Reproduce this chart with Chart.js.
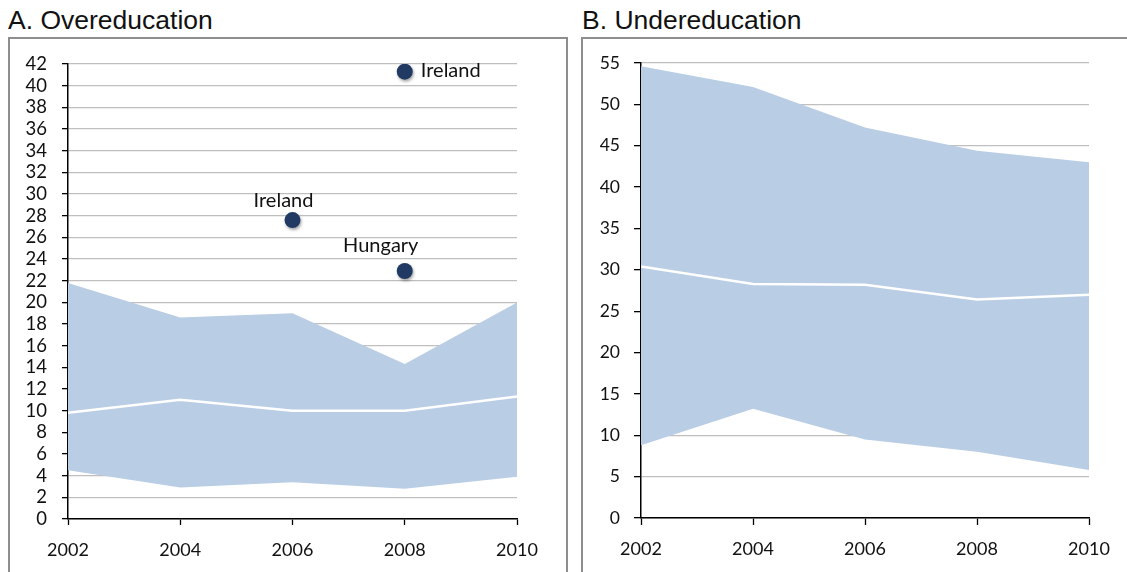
<!DOCTYPE html>
<html>
<head>
<meta charset="utf-8">
<script src="https://cdn.jsdelivr.net/npm/chart.js@4/dist/chart.umd.min.js"></script>
<style>
  html, body { margin: 0; padding: 0; background: #fff; }
  body { width: 1127px; height: 572px; position: relative; overflow: hidden; font-family: "Liberation Sans", Arial, sans-serif; }
  .title { position: absolute; top: 7px; font-size: 26.5px; line-height: 26px; color: #111; white-space: nowrap; }
  .panel { position: absolute; top: 37px; height: 545px; border: 2px solid #8e8e8e; box-sizing: border-box; }
  canvas { position: absolute; }
</style>
</head>
<body>
<div class="title" style="left:8px;">A. Overeducation</div>
<div class="title" style="left:582px;">B. Undereducation</div>
<div class="panel" style="left:8px; width:560px;"></div>
<div class="panel" style="left:581px; width:560px;"></div>
<canvas id="c1" width="556" height="534" style="left:10px; top:38px;"></canvas>
<canvas id="c2" width="544" height="534" style="left:583px; top:38px;"></canvas>
<script>
// ---- data ----
const years = [2002, 2004, 2006, 2008, 2010];

const overLower  = [4.5, 2.9, 3.4, 2.8, 3.9];
const overMedian = [9.8, 11.0, 10.0, 10.0, 11.3];
const overUpper  = [21.8, 18.6, 19.0, 14.3, 20.0];

const outlierYears  = [2006, 2008, 2008];
const outlierValues = [27.6, 41.3, 22.9];
const outlierLabels = ['Ireland', 'Ireland', 'Hungary'];

const underLower  = [8.8, 13.2, 9.5, 8.0, 5.8];
const underMedian = [30.4, 28.3, 28.2, 26.4, 27.0];
const underUpper  = [54.6, 52.1, 47.2, 44.4, 43.0];

const overTicks  = { min: 0, max: 42, step: 2 };
const underTicks = { min: 0, max: 55, step: 5 };

// ---- helpers ----
const pts = arr => arr.map((v, i) => ({ x: years[i], y: v }));
const BAND = '#b9cde5';
const NAVY = '#203a63';
const FONT = 'Lato, "Open Sans", sans-serif';

const labelOffsets = [ {dx: -9, dy: -20, align: 'center'}, {dx: 16, dy: -1, align: 'left'}, {dx: -24, dy: -25, align: 'center'} ];

const outlierPlugin = {
  id: 'outliers',
  beforeDatasetDraw(chart, args) {
    const ds = chart.data.datasets[args.index];
    if (ds.isOutlier) {
      chart.ctx.save();
      chart.ctx.shadowColor = 'rgba(0,0,0,0.35)';
      chart.ctx.shadowBlur = 3;
      chart.ctx.shadowOffsetX = 1;
      chart.ctx.shadowOffsetY = 2;
    }
  },
  afterDatasetDraw(chart, args) {
    const ds = chart.data.datasets[args.index];
    if (!ds.isOutlier) return;
    const ctx = chart.ctx;
    ctx.restore();
    const meta = chart.getDatasetMeta(args.index);
    ctx.save();
    ctx.font = '20px ' + FONT;
    ctx.fillStyle = '#111';
    ctx.textBaseline = 'middle';
    meta.data.forEach((el, i) => {
      const o = labelOffsets[i];
      ctx.textAlign = o.align;
      ctx.fillText(outlierLabels[i], el.x + o.dx, el.y + o.dy);
    });
    ctx.restore();
  }
};

function makeChart(id, lower, median, upper, tk, opts) {
  const datasets = [];
  if (opts.outliers) {
    datasets.push({
      isOutlier: true,
      data: outlierYears.map((y, i) => ({ x: y, y: outlierValues[i] })),
      showLine: false,
      pointRadius: 8,
      pointBackgroundColor: NAVY,
      pointBorderColor: NAVY,
      pointBorderWidth: 0
    });
  }
  const base = datasets.length;
  datasets.push({
    data: pts(median), borderColor: '#ffffff', borderWidth: 2.5, pointRadius: 0, fill: false, tension: 0
  });
  datasets.push({
    data: pts(upper), borderColor: 'rgba(0,0,0,0)', borderWidth: 0, pointRadius: 0,
    backgroundColor: BAND, fill: base + 2, tension: 0
  });
  datasets.push({
    data: pts(lower), borderColor: 'rgba(0,0,0,0)', borderWidth: 0, pointRadius: 0, fill: false, tension: 0
  });

  return new Chart(document.getElementById(id), {
    type: 'line',
    data: { datasets },
    plugins: [outlierPlugin],
    options: {
      responsive: false,
      animation: false,
      devicePixelRatio: 1,
      layout: { padding: opts.padding },
      plugins: { legend: { display: false }, tooltip: { enabled: false } },
      scales: {
        x: {
          type: 'linear', min: 2002, max: 2010,
          afterFit: s => { s.height = opts.xHeight; },
          afterBuildTicks: s => { s.ticks = years.map(v => ({ value: v })); },
          ticks: {
            callback: v => String(v), color: '#111', padding: opts.xPad, maxRotation: 0, autoSkip: false,
            font: { family: FONT, size: 18 }
          },
          grid: { drawOnChartArea: false, drawTicks: true, tickLength: opts.tickLen, tickColor: '#000', tickWidth: 1.3 },
          border: { color: '#000', width: 1.5 }
        },
        y: {
          min: tk.min, max: tk.max,
          afterFit: s => { s.width = opts.yWidth; },
          ticks: {
            stepSize: tk.step, color: '#111', padding: opts.yPad, autoSkip: false,
            font: { family: FONT, size: opts.yFont }
          },
          grid: { color: '#bfbfbf', lineWidth: 1.3, tickLength: opts.tickLen, tickColor: '#000', tickWidth: 1.3 },
          border: { color: '#000', width: 1.5 }
        }
      }
    }
  });
}

makeChart('c1', overLower, overMedian, overUpper, overTicks, {
  outliers: true, padding: { left: 0, top: 24, right: 49, bottom: 3 },
  yWidth: 58, xHeight: 50, tickLen: 6, xPad: 14, yPad: 15, yFont: 18.5
});
makeChart('c2', underLower, underMedian, underUpper, underTicks, {
  outliers: false, padding: { left: 0, top: 25, right: 38, bottom: 4 },
  yWidth: 58, xHeight: 50, tickLen: 7, xPad: 13, yPad: 14, yFont: 17.5
});
</script>
</body>
</html>
